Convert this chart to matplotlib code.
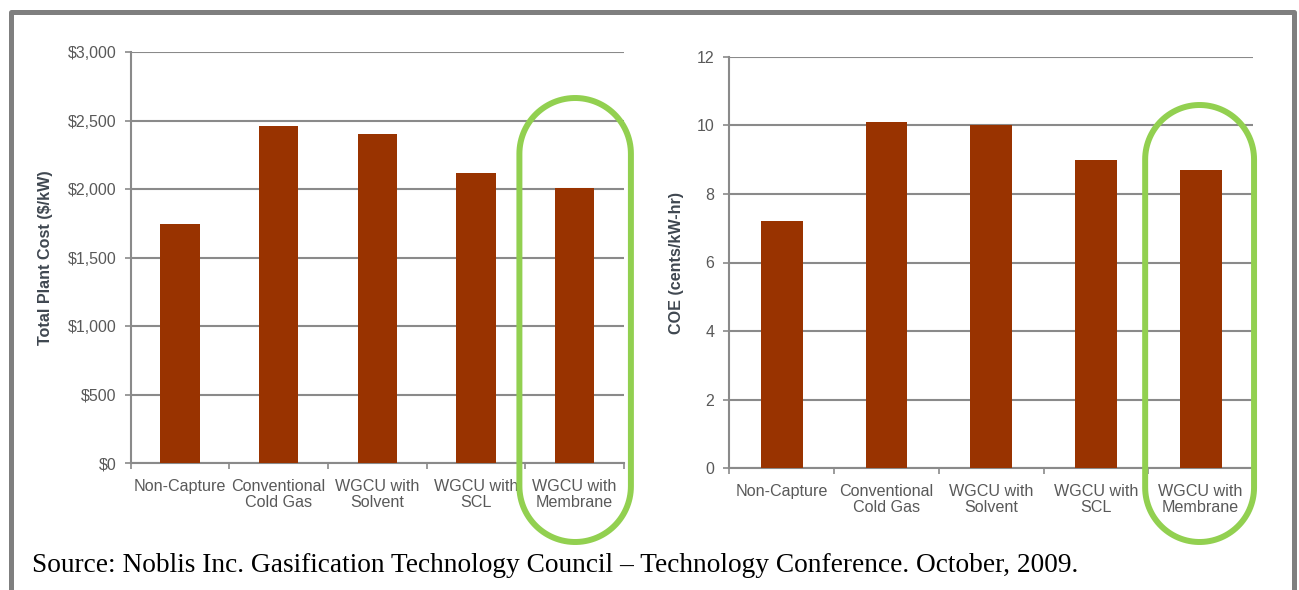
import numpy as np
import matplotlib
matplotlib.use("Agg")
import matplotlib.pyplot as plt
from matplotlib.patches import Polygon
from matplotlib.lines import Line2D
from matplotlib.transforms import IdentityTransform

# data
categories = ["Non-Capture", "Conventional\nCold Gas", "WGCU with\nSolvent",
              "WGCU with\nSCL", "WGCU with\nMembrane"]
plant_cost = [1750, 2465, 2405, 2117, 2007]
coe = [7.22, 10.1, 10.0, 9.0, 8.7]
cost_ticks = [0, 500, 1000, 1500, 2000, 2500, 3000]
cost_labels = ["$0", "$500", "$1,000", "$1,500", "$2,000", "$2,500", "$3,000"]
coe_ticks = [0, 2, 4, 6, 8, 10, 12]
source_text = ("Source: Noblis Inc. Gasification Technology Council \u2013 "
               "Technology Conference. October, 2009.")

W, H = 1299, 590
bar_color = "#993300"
grid_color = "#8a8a8a"
text_color = "#595959"
label_color = "#3f4750"
green = "#92d050"

plt.rcParams["font.family"] = ["Liberation Sans", "DejaVu Sans"]

fig = plt.figure(figsize=(W / 100, H / 100), dpi=100)
fig.patch.set_facecolor("white")


def px_axes(left, top, right, bottom):
    # pixel box (from top-left) -> figure fraction rect
    return [left / W, 1 - bottom / H, (right - left) / W, (bottom - top) / H]


ax1 = fig.add_axes(px_axes(130.6, 52.3, 624, 463.3))
ax2 = fig.add_axes(px_axes(729.5, 56.7, 1253, 468.3))


def style_axes(ax, values, ticks, ticklabels, ylabel, ytick_pad):
    x = np.arange(len(categories))
    ax.bar(x, values, width=0.4, color=bar_color, zorder=3)
    ax.set_xlim(-0.5, len(categories) - 0.5)
    ax.set_ylim(ticks[0], ticks[-1])
    ax.set_yticks(ticks)
    ax.set_yticklabels(ticklabels)
    ax.yaxis.grid(True, color=grid_color, linewidth=1.5, zorder=0)
    ax.set_axisbelow(True)
    ax.set_xticks(np.arange(len(categories) + 1) - 0.5)
    ax.set_xticklabels([])
    ax.set_xticks(x, minor=True)
    ax.set_xticklabels(categories, minor=True, fontsize=11.6, color=text_color,
                       linespacing=1.1)
    ax.tick_params(axis="x", which="major", length=4.5, width=1.2, color=grid_color)
    ax.tick_params(axis="x", which="minor", length=0, pad=11)
    ax.tick_params(axis="y", length=4, width=1.2, color=grid_color,
                   labelsize=11.5, labelcolor=text_color, pad=ytick_pad)
    for s in ["top", "right"]:
        ax.spines[s].set_visible(False)
    for s in ["left", "bottom"]:
        ax.spines[s].set_color(grid_color)
        ax.spines[s].set_linewidth(1.5)
    ax.set_ylabel(ylabel, fontsize=11.6, fontweight="bold", color=label_color)


style_axes(ax1, plant_cost, cost_ticks, cost_labels, "Total Plant Cost ($/kW)", 6)
style_axes(ax2, coe, coe_ticks, [str(t) for t in coe_ticks], "COE (cents/kW-hr)", 7)
ax1.yaxis.set_label_coords(-0.157, 0.5)
ax2.yaxis.set_label_coords(-0.087, 0.5)

# gray outer frame (open at the bottom)
frame_kw = dict(color="#7f7f7f", linewidth=3.6, transform=IdentityTransform())
fig.add_artist(Line2D([10.5, 10.5, 1294, 1294], [0, H - 12, H - 12, 0], **frame_kw))

# green highlight around the last category
fig.canvas.draw()


def stadium(ax, x0, x1, top, bottom):
    left = ax.transData.transform((x0, 0))[0]
    right = ax.transData.transform((x1, 0))[0]
    r = (right - left) / 2
    cx = left + r
    y_top = H - top - r      # centre of upper arc (display coords)
    y_bot = H - bottom + r   # centre of lower arc
    t1 = np.linspace(0, np.pi, 60)
    t2 = np.linspace(np.pi, 2 * np.pi, 60)
    xs = np.concatenate([cx + r * np.cos(t1), cx + r * np.cos(t2)])
    ys = np.concatenate([y_top + r * np.sin(t1), y_bot + r * np.sin(t2)])
    patch = Polygon(np.column_stack([xs, ys]), closed=True, fill=False,
                    edgecolor=green, linewidth=4.3, joinstyle="round",
                    transform=IdentityTransform())
    fig.add_artist(patch)


stadium(ax1, 3.44, 4.57, 98, 542)
stadium(ax2, 3.47, 4.51, 105, 542)

fig.text(32 / W, 1 - 565 / H, source_text, fontsize=19.7, va="center", ha="left",
         family=["Liberation Serif", "DejaVu Serif"], color="black")

fig.savefig("out.png", dpi=100, facecolor="white")
